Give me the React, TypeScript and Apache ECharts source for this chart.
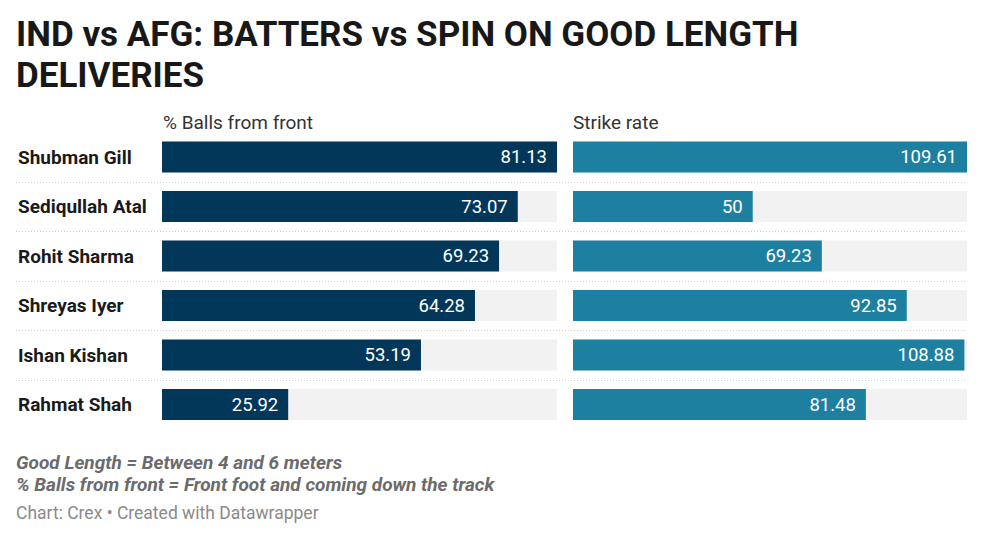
import React, { useEffect, useRef } from "react";
import * as echarts from "echarts";

const players = ["Shubman Gill", "Sediqullah Atal", "Rohit Sharma", "Shreyas Iyer", "Ishan Kishan", "Rahmat Shah"];
const ballsFromFront = [81.13, 73.07, 69.23, 64.28, 53.19, 25.92];
const strikeRate = [109.61, 50, 69.23, 92.85, 108.88, 81.48];
const panelTitles = ["% Balls from front", "Strike rate"];
const titleLines = ["IND vs AFG: BATTERS vs SPIN ON GOOD LENGTH", "DELIVERIES"];
const notes = ["Good Length = Between 4 and 6 meters", "% Balls from front = Front foot and coming down the track"];
const credit = "Chart: Crex • Created with Datawrapper";

const FONT = "Roboto, 'Noto Sans', sans-serif";

export default function App() {
  const ref = useRef<HTMLDivElement>(null);
  useEffect(() => {
    document.body.style.margin = "0";
    if (!ref.current) return;
    const chart = echarts.init(ref.current, null, { renderer: "svg" });
    const top = 132.25;
    const height = 297;
    const fmt = (v: number) => String(v);
    const barSeries = (idx: number, data: number[], color: string) => ({
      type: "bar",
      xAxisIndex: idx,
      yAxisIndex: idx,
      data,
      barWidth: 31,
      itemStyle: { color },
      showBackground: true,
      backgroundStyle: { color: "#f2f2f2" },
      label: {
        show: true,
        position: "insideRight",
        distance: 10,
        color: "#ffffff",
        fontSize: 18.5,
        fontFamily: FONT,
        formatter: (p: any) => fmt(p.value),
      },
      silent: true,
    });
    chart.setOption({
      animation: false,
      backgroundColor: "#ffffff",
      textStyle: { fontFamily: FONT },
      grid: [
        { left: 162, width: 395, top, height },
        { left: 573, width: 394, top, height },
        { left: 16, width: 951, top, height },
      ],
      xAxis: [
        { type: "value", gridIndex: 0, min: 0, max: 81.13, show: false },
        { type: "value", gridIndex: 1, min: 0, max: 109.61, show: false },
        { type: "value", gridIndex: 2, min: 0, max: 1, show: false },
      ],
      yAxis: [
        {
          type: "category",
          gridIndex: 0,
          data: players,
          inverse: true,
          axisLine: { show: false },
          axisTick: { show: false },
          axisLabel: {
            align: "left",
            margin: 144,
            color: "#1a1a1a",
            fontSize: 19,
            fontWeight: "bold",
            fontFamily: FONT,
          },
        },
        {
          type: "category",
          gridIndex: 1,
          data: players,
          inverse: true,
          axisLine: { show: false },
          axisTick: { show: false },
          axisLabel: { show: false },
        },
        {
          type: "value",
          gridIndex: 2,
          min: 0,
          max: 6,
          interval: 1,
          inverse: true,
          axisLine: { show: false },
          axisTick: { show: false },
          axisLabel: { show: false },
          splitLine: {
            show: true,
            showMinLine: false,
            showMaxLine: false,
            lineStyle: { color: "#cfcfcf", type: [1, 2], width: 1 },
          },
        },
      ],
      series: [
        barSeries(0, ballsFromFront, "#02375a"),
        barSeries(1, strikeRate, "#1d80a1"),
      ],
      graphic: [
        {
          type: "text",
          left: 16,
          top: 13.5,
          style: {
            text: titleLines.join("\n"),
            fontSize: 35,
            lineHeight: 41,
            fontWeight: "bold",
            fontFamily: FONT,
            fill: "#181818",
          },
        },
        {
          type: "text",
          x: 163,
          y: 122,
          style: { text: panelTitles[0], fontSize: 19, fontFamily: FONT, fill: "#333333", verticalAlign: "middle" },
        },
        {
          type: "text",
          x: 573,
          y: 122,
          style: { text: panelTitles[1], fontSize: 19, fontFamily: FONT, fill: "#333333", verticalAlign: "middle" },
        },
        {
          type: "text",
          x: 16,
          y: 462,
          style: {
            text: notes[0],
            fontSize: 19,
            fontStyle: "italic",
            fontWeight: "bold",
            fontFamily: FONT,
            fill: "#6b6b6b",
            verticalAlign: "middle",
          },
        },
        {
          type: "text",
          x: 16,
          y: 484,
          style: {
            text: notes[1],
            fontSize: 19,
            fontStyle: "italic",
            fontWeight: "bold",
            fontFamily: FONT,
            fill: "#6b6b6b",
            verticalAlign: "middle",
          },
        },
        {
          type: "text",
          x: 16,
          y: 513,
          style: { text: credit, fontSize: 17.5, fontFamily: FONT, fill: "#8a8a8a", verticalAlign: "middle" },
        },
      ],
    });
    return () => chart.dispose();
  }, []);
  return <div ref={ref} style={{ width: 985, height: 540 }} />;
}
